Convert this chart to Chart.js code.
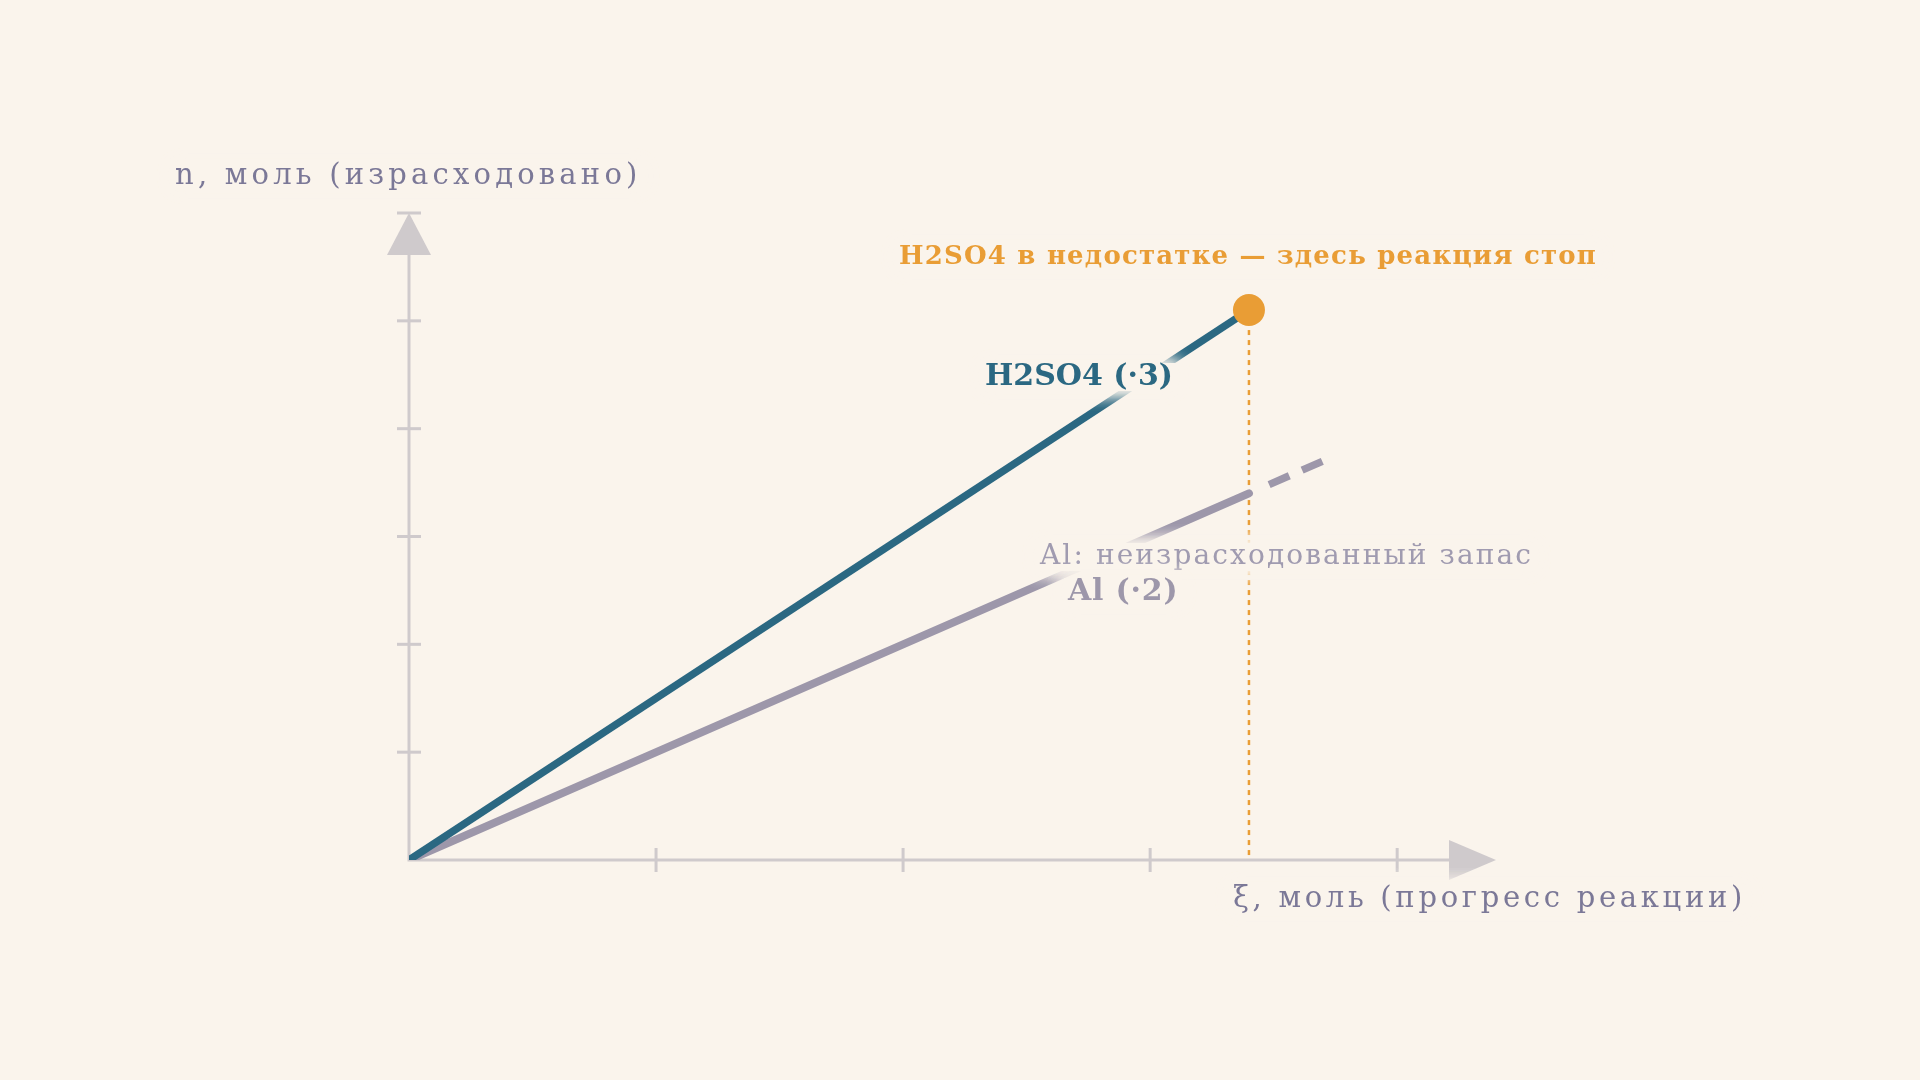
<!DOCTYPE html>
<html>
<head>
<meta charset="utf-8">
<script src="https://cdn.jsdelivr.net/npm/chart.js@4/dist/chart.umd.min.js"></script>
<style>
  html, body { margin: 0; padding: 0; background: #faf4ec; }
  #wrap { width: 1920px; height: 1080px; }
</style>
</head>
<body>
<div id="wrap"><canvas id="myChart" width="1920" height="1080"></canvas></div>
<script>
// данные: прогресс реакции и израсходованные моли
const xi = [0, 3.4];
const h2so4 = [0, 10.2];
const al = [0, 6.8];
// Al: продолжение (пунктир) - запас не израсходован
const alExtXi = [3.4, 3.7];
const alExt = [6.8, 7.4];
// точка остановки
const stopXi = [3.4];
const stopN = [10.2];
// деления осей
const xTicks = [1, 2, 3, 4];
const yTicks = [2, 4, 6, 8, 10, 12];

const bg = "#faf4ec";
const teal = "#2b6882";
const grey = "#9d97aa";
const orange = "#e99d35";
const axisCol = "#cfcacc";
const labelCol = "#7b7897";
const serif = "'DejaVu Serif', serif";

function pts(xs, ys) {
  return xs.map(function (x, i) { return { x: x, y: ys[i] }; });
}

// текст с мягким фоном (линии пропадают под подписью)
function haloText(ctx, txt, x, y, font, color, align, spacing) {
  ctx.save();
  ctx.font = font;
  ctx.letterSpacing = spacing + "px";
  ctx.textAlign = align;
  ctx.textBaseline = "middle";
  var w = ctx.measureText(txt).width;
  var left = align == "right" ? x - w : (align == "center" ? x - w / 2 : x);
  ctx.fillStyle = bg;
  ctx.shadowColor = bg;
  ctx.shadowBlur = 18;
  for (var k = 0; k < 3; k++) {
    ctx.fillRect(left - 4, y - 14, w + 8, 28);
  }
  ctx.shadowBlur = 0;
  ctx.fillStyle = color;
  ctx.fillText(txt, x, y);
  ctx.restore();
}

const axesPlugin = {
  id: "axesPlugin",
  beforeDraw(chart) {
    const ctx = chart.ctx;
    ctx.save();
    ctx.fillStyle = bg;
    ctx.fillRect(0, 0, chart.width, chart.height);
    ctx.restore();
  },
  beforeDatasetsDraw(chart) {
    const ctx = chart.ctx;
    const xs = chart.scales.x, ys = chart.scales.y;
    const x0 = xs.getPixelForValue(0), y0 = ys.getPixelForValue(0);
    const xEnd = xs.getPixelForValue(xs.max), yEnd = ys.getPixelForValue(ys.max);
    ctx.save();
    ctx.strokeStyle = axisCol;
    ctx.lineWidth = 3;
    // деления
    xTicks.forEach(function (t) {
      var px = xs.getPixelForValue(t);
      ctx.beginPath(); ctx.moveTo(px, y0 - 12); ctx.lineTo(px, y0 + 12); ctx.stroke();
    });
    yTicks.forEach(function (t) {
      var py = ys.getPixelForValue(t);
      ctx.beginPath(); ctx.moveTo(x0 - 12, py); ctx.lineTo(x0 + 12, py); ctx.stroke();
    });
    // оси
    ctx.beginPath();
    ctx.moveTo(x0, yEnd + 40); ctx.lineTo(x0, y0); ctx.lineTo(xEnd - 45, y0);
    ctx.stroke();
    // стрелки
    ctx.fillStyle = axisCol;
    ctx.beginPath();
    ctx.moveTo(xEnd, y0); ctx.lineTo(xEnd - 47, y0 - 20); ctx.lineTo(xEnd - 47, y0 + 20);
    ctx.closePath(); ctx.fill();
    ctx.beginPath();
    ctx.moveTo(x0, yEnd); ctx.lineTo(x0 - 22, yEnd + 42); ctx.lineTo(x0 + 22, yEnd + 42);
    ctx.closePath(); ctx.fill();
    ctx.restore();
  },
  afterDraw(chart) {
    const ctx = chart.ctx;
    haloText(ctx, "n, моль (израсходовано)", 175, 176, "29px " + serif, labelCol, "left", 4.2);
    haloText(ctx, "ξ, моль (прогресс реакции)", 1746, 899, "29px " + serif, labelCol, "right", 3.7);
    haloText(ctx, "H2SO4 в недостатке — здесь реакция стоп", 1248, 257, "bold 26px " + serif, orange, "center", 1.2);
    haloText(ctx, "H2SO4 (·3)", 1173, 377, "bold 30px " + serif, teal, "right", 0);
    haloText(ctx, "Al: неизрасходованный запас", 1040, 557, "28px " + serif, "#a09bb0", "left", 2.1);
    haloText(ctx, "Al (·2)", 1068, 592, "bold 30px " + serif, grey, "left", 0.8);
  }
};

new Chart("myChart", {
  type: "line",
  data: {
    datasets: [
      {
        data: pts(stopXi.concat(stopXi), stopN.concat([0])),
        borderColor: orange, borderWidth: 2.5, borderDash: [5, 5],
        pointRadius: 0, order: 5
      },
      {
        data: pts(alExtXi, alExt),
        borderColor: grey, borderWidth: 7.5, borderDash: [22, 14, 22, 22], borderDashOffset: 58,
        pointRadius: 0, order: 4
      },
      {
        data: pts(xi, al),
        borderColor: grey, borderWidth: 8, borderCapStyle: "round",
        pointRadius: 0, order: 3
      },
      {
        data: pts(xi, h2so4),
        borderColor: teal, borderWidth: 7.5,
        pointRadius: 0, order: 2
      },
      {
        data: pts(stopXi, stopN),
        showLine: false,
        pointRadius: 16, pointBackgroundColor: orange, pointBorderWidth: 0,
        order: 1
      }
    ]
  },
  options: {
    responsive: false,
    animation: false,
    layout: { padding: { left: 409, right: 424, top: 213, bottom: 220 } },
    plugins: { legend: { display: false }, tooltip: { enabled: false } },
    scales: {
      x: { type: "linear", min: 0, max: 4.4, display: false },
      y: { min: 0, max: 12, display: false }
    }
  },
  plugins: [axesPlugin]
});
</script>
</body>
</html>
